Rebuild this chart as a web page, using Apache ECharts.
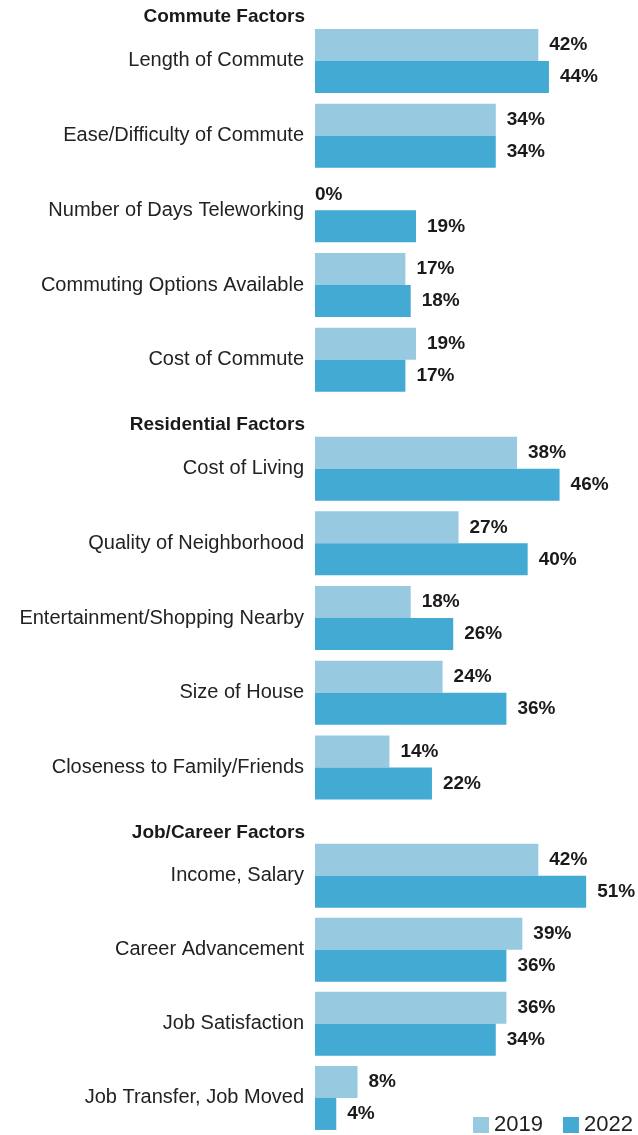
<!DOCTYPE html>
<html>
<head>
<meta charset="utf-8">
<script src="https://cdn.jsdelivr.net/npm/echarts@6/dist/echarts.min.js"></script>
<style>
  html, body { margin: 0; padding: 0; background: #fff; }
  #chart { width: 638px; height: 1135px; }
</style>
</head>
<body>
<div id="chart"></div>
<script>
// section headers
var sectionTitles = ['Commute Factors', 'Residential Factors', 'Job/Career Factors'];

// commute factors
var commuteCats = ['Length of Commute', 'Ease/Difficulty of Commute', 'Number of Days Teleworking', 'Commuting Options Available', 'Cost of Commute'];
var commute2019 = [42, 34, 0, 17, 19];
var commute2022 = [44, 34, 19, 18, 17];

// residential factors
var residentialCats = ['Cost of Living', 'Quality of Neighborhood', 'Entertainment/Shopping Nearby', 'Size of House', 'Closeness to Family/Friends'];
var residential2019 = [38, 27, 18, 24, 14];
var residential2022 = [46, 40, 26, 36, 22];

// job/career factors
var jobCats = ['Income, Salary', 'Career Advancement', 'Job Satisfaction', 'Job Transfer, Job Moved'];
var job2019 = [42, 39, 36, 8];
var job2022 = [51, 36, 34, 4];

var yearNames = ['2019', '2022'];

var FONT = '"Liberation Sans", Arial, sans-serif';
var colors = ['#97c9e1', '#42aad3'];

var sections = [
    {cats: commuteCats, v: [commute2019, commute2022], top: 23.6, height: 373.5, headY: 17},
    {cats: residentialCats, v: [residential2019, residential2022], top: 431.3, height: 373.5, headY: 425},
    {cats: jobCats, v: [job2019, job2022], top: 838.6, height: 298.8, headY: 832.5}
];

var grids = [], xAxes = [], yAxes = [], series = [], graphics = [];

sections.forEach(function (s, i) {
    grids.push({left: 315, right: 4, top: s.top, height: s.height, containLabel: false});
    xAxes.push({
        type: 'value', gridIndex: i, min: 0, max: 60, show: false
    });
    yAxes.push({
        type: 'category', gridIndex: i, inverse: true, data: s.cats,
        axisLine: {show: false}, axisTick: {show: false},
        axisLabel: {fontSize: 20, color: '#222', margin: 11, fontFamily: FONT, padding: [3, 0, 0, 0]}
    });
    s.v.forEach(function (vals, k) {
        series.push({
            name: yearNames[k],
            type: 'bar',
            xAxisIndex: i,
            yAxisIndex: i,
            barWidth: 32,
            barGap: '0%',
            itemStyle: {color: colors[k]},
            label: {
                show: true, position: 'right', distance: 11,
                formatter: '{c}%', fontSize: 19, fontWeight: 'bold',
                color: '#1a1a1a', fontFamily: FONT, padding: [3, 0, 0, 0]
            },
            data: vals.map(function (v) {
                return v === 0 ? {value: v, label: {distance: 0}} : v;
            })
        });
    });
    graphics.push({
        type: 'text',
        x: 305,
        y: s.headY,
        style: {
            text: sectionTitles[i],
            textAlign: 'right',
            textVerticalAlign: 'middle',
            font: 'bold 19px ' + FONT,
            fill: '#1a1a1a'
        }
    });
});

var option = {
    animation: false,
    grid: grids,
    xAxis: xAxes,
    yAxis: yAxes,
    series: series,
    graphic: graphics,
    legend: {
        data: yearNames,
        left: 473,
        top: 1114,
        padding: 0,
        itemWidth: 16,
        itemHeight: 16,
        itemGap: 20,
        icon: 'rect',
        textStyle: {fontSize: 22, color: '#222', fontFamily: FONT, padding: [2, 0, 0, 0]}
    }
};

var chart = echarts.init(document.getElementById('chart'));
chart.setOption(option);
</script>
</body>
</html>
